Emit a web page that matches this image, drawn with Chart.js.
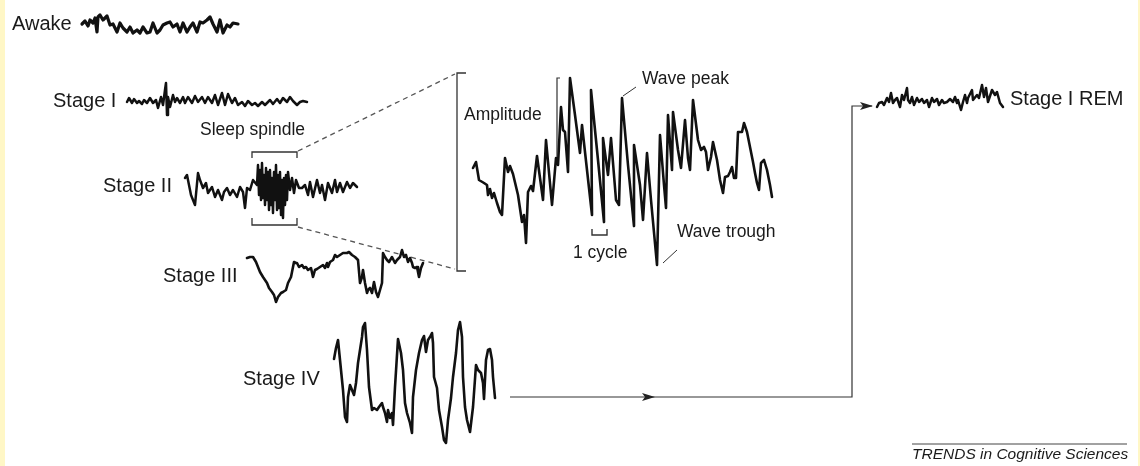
<!DOCTYPE html>
<html><head><meta charset="utf-8">
<script src="https://cdn.jsdelivr.net/npm/chart.js@4"></script>
<style>html,body{margin:0;padding:0;background:#fff;overflow:hidden}canvas{display:block}</style>
</head><body>
<canvas id="c" width="1140" height="466"></canvas>
<script>
// EEG traces, [x, y] in figure units
const awake = [[82,24],[85,21],[88,26],[90,20],[93,23],[95,18],[97,32],[98,17],[100,15],[103,20],[107,16],[110,25],[113,24],[117,32],[120,23],[123,28],[127,32],[130,27],[133,33],[137,30],[140,33],[143,27],[147,33],[150,32],[153,23],[157,33],[160,30],[163,25],[167,23],[170,22],[173,27],[177,24],[180,32],[183,23],[187,32],[190,27],[193,23],[197,32],[200,22],[203,23],[207,20],[210,17],[213,24],[217,32],[220,20],[223,33],[227,25],[230,27],[233,23],[238,24]];
const stageI = [[127,102],[129,98],[132,103],[134,99],[137,103],[139,101],[142,104],[144,100],[147,103],[150,98],[153,103],[156,100],[158,108],[161,97],[163,105],[165,90],[166,83],[167,115],[168,97],[170,107],[173,95],[175,102],[177,98],[180,103],[183,97],[185,103],[188,97],[192,103],[195,96],[198,102],[202,97],[205,103],[208,97],[212,103],[215,95],[218,105],[222,93],[225,105],[228,94],[232,103],[235,98],[238,105],[242,102],[245,106],[248,101],[252,105],[255,103],[258,106],[262,102],[265,105],[270,100],[273,104],[277,99],[280,103],[283,98],[287,102],[290,97],[293,101],[297,105],[300,102],[303,101],[307,102]];
const stageII = [[185,178],[187,175],[191,195],[195,205],[198,173],[200,180],[203,188],[206,183],[208,193],[212,187],[215,197],[218,190],[222,200],[224,192],[227,188],[230,195],[233,190],[237,197],[240,187],[243,192],[245,208],[247,188],[250,190],[253,180],[257,185],[258,165],[259,195],[260,170],[261,200],[262,163],[263,198],[264,175],[265,205],[266,168],[267,200],[268,172],[269,210],[270,170],[271,205],[272,178],[273,213],[274,172],[275,200],[276,165],[277,210],[278,175],[279,208],[280,172],[281,215],[282,180],[283,218],[284,178],[285,205],[286,175],[287,200],[288,172],[290,190],[292,178],[294,193],[296,180],[299,188],[302,188],[305,185],[308,195],[310,182],[313,197],[317,180],[320,193],[322,185],[325,200],[328,183],[332,193],[335,180],[337,192],[340,183],[343,192],[347,182],[350,188],[353,183],[357,187]];
const stageIII = [[247,258],[250,257],[253,257],[256,262],[258,267],[260,272],[263,277],[265,280],[267,283],[269,288],[272,292],[274,295],[276,302],[278,297],[281,293],[283,292],[286,290],[288,283],[291,277],[293,267],[294,262],[296,263],[297,263],[299,267],[302,265],[304,268],[306,267],[308,270],[311,268],[313,277],[315,270],[317,269],[320,267],[323,265],[325,268],[327,263],[328,267],[330,262],[333,260],[335,255],[337,257],[340,255],[343,253],[347,253],[349,252],[352,255],[355,257],[358,260],[360,283],[362,277],[363,270],[365,283],[367,293],[368,290],[370,288],[372,293],[374,282],[376,292],[378,297],[380,290],[382,283],[383,253],[385,257],[387,260],[389,262],[392,257],[395,263],[397,260],[400,257],[402,250],[404,257],[406,255],[408,262],[410,258],[412,263],[413,267],[415,268],[417,267],[418,272],[419,277],[421,268],[423,263]];
const stageIV = [[334,359],[336,348],[338,340],[340,360],[343,390],[345,417],[347,422],[348,397],[350,385],[352,390],[354,395],[356,383],[358,363],[362,337],[363,327],[365,323],[367,350],[369,387],[372,410],[374,408],[377,410],[379,407],[382,403],[383,407],[385,413],[387,422],[388,410],[390,418],[392,413],[393,425],[395,387],[398,339],[401,353],[403,370],[405,403],[407,413],[410,423],[412,433],[413,397],[416,370],[419,353],[422,340],[424,336],[426,352],[428,340],[430,337],[432,333],[433,343],[434,377],[437,388],[439,410],[442,427],[444,440],[446,443],[448,420],[451,398],[453,377],[456,353],[458,330],[460,322],[462,337],[463,377],[465,407],[467,420],[470,432],[473,407],[476,365],[478,370],[481,373],[483,383],[484,399],[486,360],[488,350],[490,349],[492,360],[493,377],[495,398]];
const stageREM = [[877,107],[879,103],[882,102],[884,105],[887,98],[889,102],[891,93],[893,103],[895,100],[897,98],[900,107],[902,95],[904,100],[907,88],[908,100],[910,103],[912,97],[914,105],[917,98],[919,102],[922,99],[924,103],[927,100],[929,107],[932,98],[934,102],[937,99],[939,105],[942,100],[944,103],[947,102],[950,99],[953,102],[955,97],[957,103],[958,100],[961,110],[963,102],[965,95],[967,103],[968,98],[972,90],[973,100],[977,95],[979,98],[982,85],[984,97],[986,88],[988,102],[992,90],[995,95],[997,92],[1000,103],[1003,107]];
const spindleZoom = [[473,168],[476,162],[479,180],[484,183],[487,185],[488,195],[490,189],[492,198],[494,193],[497,203],[500,212],[502,215],[505,158],[508,172],[510,166],[513,174],[518,195],[522,222],[524,215],[526,243],[528,192],[531,186],[533,191],[537,156],[543,200],[546,140],[552,205],[556,158],[558,165],[561,107],[563,130],[565,132],[568,172],[570,78],[575,115],[580,153],[582,125],[592,215],[591,90],[598,160],[604,222],[603,138],[608,175],[611,138],[616,200],[619,205],[622,98],[628,165],[634,226],[634,145],[640,185],[643,220],[647,153],[651,200],[657,265],[660,135],[664,185],[666,208],[668,115],[672,170],[673,112],[678,150],[681,168],[685,120],[688,158],[690,170],[693,100],[698,140],[701,150],[704,147],[706,152],[708,170],[711,157],[713,142],[717,160],[720,180],[723,193],[725,177],[728,176],[730,172],[732,167],[734,178],[736,178],[738,132],[742,132],[744,123],[747,132],[750,147],[753,162],[755,173],[757,183],[759,190],[761,163],[764,160],[767,170],[770,185],[772,197]];

// annotation geometry
const spindleTop = [[252,158],[252,152],[297,152],[297,158]];
const spindleBottom = [[252,218],[252,225],[297,225],[297,218]];
const dashTop = [[298,151],[455,74]];
const dashBottom = [[298,227],[455,269]];
const ampBracket = [[466,73],[457,73],[457,271],[466,271]];
const ampInner = [[560,78],[557,78],[557,160]];
const cycleBracket = [[592,229],[592,235],[607,235],[607,229]];
const peakLeader = [[623,96],[636,87]];
const troughLeader = [[663,263],[677,250]];
const flowLine = [[510,397],[852,397],[852,106],[872,106]];
const footerRule = [[912,444],[1127,444]];
const arrowHeads = [[655,397],[873,106]];

const stageLabels = [["Awake",12,24],["Stage I",53,101],["Stage II",103,186],["Stage III",163,276],["Stage IV",243,379],["Stage I REM",1010,99]];
const noteLabels = [["Sleep spindle",200,130],["Amplitude",464,115],["Wave peak",642,79],["1 cycle",573,253],["Wave trough",677,232]];
const footer = ["TRENDS in Cognitive Sciences",912,455];

const toPts = a => a.map(p => ({x:p[0], y:p[1]}));
const trace = (d, w) => ({data: toPts(d), showLine: true, borderColor: '#111', borderWidth: w, pointRadius: 0, borderJoinStyle: 'round', borderCapStyle: 'round', tension: 0});
const anno = (d, w, dash, col) => ({data: toPts(d), showLine: true, borderColor: col || '#333', borderWidth: w, borderDash: dash || [], pointRadius: 0, tension: 0});

const decor = {
  id: 'decor',
  beforeDraw(chart) {
    const c = chart.ctx;
    c.save();
    c.fillStyle = '#fff';
    c.fillRect(0, 0, chart.width, chart.height);
    c.fillStyle = '#FFF7C6';
    c.fillRect(0, 0, 5, chart.height);
    c.fillRect(1138, 0, 2, chart.height);
    c.restore();
  },
  afterDraw(chart) {
    const c = chart.ctx, xs = chart.scales.x, ys = chart.scales.y;
    c.save();
    c.fillStyle = '#1a1a1a';
    c.textBaseline = 'middle';
    c.textAlign = 'left';
    c.font = '20px "Liberation Sans", Arial, sans-serif';
    stageLabels.forEach(l => c.fillText(l[0], xs.getPixelForValue(l[1]), ys.getPixelForValue(l[2])));
    c.font = '17.5px "Liberation Sans", Arial, sans-serif';
    noteLabels.forEach(l => c.fillText(l[0], xs.getPixelForValue(l[1]), ys.getPixelForValue(l[2])));
    c.font = 'italic 15.5px "Liberation Sans", Arial, sans-serif';
    c.fillText(footer[0], xs.getPixelForValue(footer[1]), ys.getPixelForValue(footer[2]));
    c.fillStyle = '#222';
    arrowHeads.forEach(a => {
      const px = xs.getPixelForValue(a[0]), py = ys.getPixelForValue(a[1]);
      c.beginPath();
      c.moveTo(px, py);
      c.lineTo(px - 13, py - 4);
      c.lineTo(px - 10, py);
      c.lineTo(px - 13, py + 4);
      c.closePath();
      c.fill();
    });
    c.restore();
  }
};

new Chart(document.getElementById('c'), {
  type: 'scatter',
  data: {datasets: [
    trace(awake, 3.2), trace(stageI, 2.5), trace(stageII, 2.5), trace(stageIII, 2.6),
    trace(stageIV, 2.6), trace(stageREM, 2.5), trace(spindleZoom, 2.6),
    anno(spindleTop, 1.3), anno(spindleBottom, 1.3),
    anno(dashTop, 1.3, [5, 4], '#555'), anno(dashBottom, 1.3, [5, 4], '#555'),
    anno(ampBracket, 1.3), anno(ampInner, 1.2), anno(cycleBracket, 1.4),
    anno(peakLeader, 1), anno(troughLeader, 1), anno(flowLine, 1.2, [], '#333'),
    anno(footerRule, 1, [], '#444')
  ]},
  options: {
    responsive: false, animation: false, events: [],
    layout: {padding: 0},
    scales: {
      x: {type: 'linear', min: 0, max: 1140, display: false},
      y: {type: 'linear', min: 0, max: 466, reverse: true, display: false}
    },
    plugins: {legend: {display: false}, tooltip: {enabled: false}}
  },
  plugins: [decor]
});
</script>
</body></html>
